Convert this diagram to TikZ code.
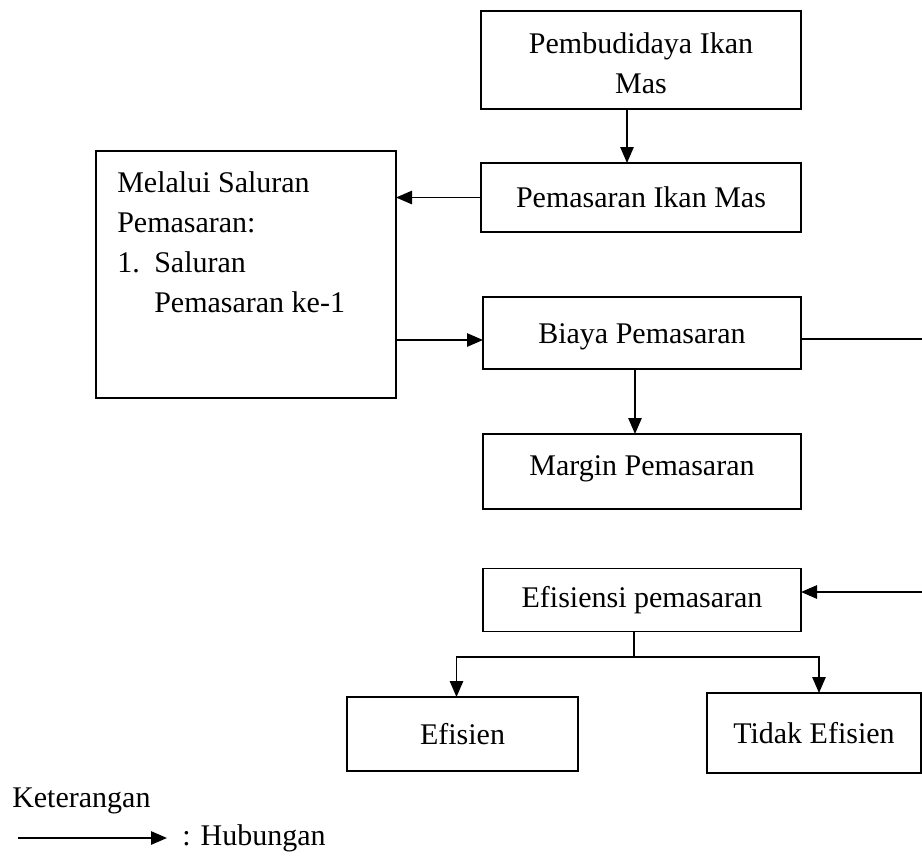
\documentclass[tikz,border=0pt]{standalone}
\usepackage{fontspec}
\setmainfont{Liberation Serif}
\usetikzlibrary{arrows.meta}
\begin{document}
\begin{tikzpicture}[x=0.75pt,y=-0.75pt,
  font=\fontsize{22.5}{30}\selectfont,
  box/.style={draw,line width=1.3pt,inner sep=0pt,outer sep=0pt,align=center},
  conn/.style={line width=1.3pt},
  arr/.style={line width=1.3pt,-{Triangle[length=12pt,width=10pt]}}]
\useasboundingbox (0,0) rectangle (922,861);
% boxes
\node[box,minimum width=240pt,minimum height=73.5pt] (b1) at (641,60) {\rule{0pt}{21pt}Pembudidaya Ikan\\Mas};
\node[box,minimum width=240pt,minimum height=51.75pt] (b2) at (641,197.5) {Pemasaran Ikan Mas};
\node[box,minimum width=225pt,minimum height=185.25pt] (lb) at (246,274.5) {};
\node[anchor=north west,inner sep=0pt,align=left] (lbt) at (117,171.5)
  {Melalui Saluran\\Pemasaran:\\\makebox[27.75pt][l]{1.}Saluran\\\hspace*{27.75pt}Pemasaran ke-1};
\node[box,minimum width=238.5pt,minimum height=54pt] (b3) at (642,333) {\raisebox{-3pt}[\height][\depth]{Biaya Pemasaran}};
\node[box,minimum width=238.5pt,minimum height=56.25pt] (bm) at (642,471.5) {Margin Pemasaran\rule[-9pt]{0pt}{0pt}};
\node[box,minimum width=238.5pt,minimum height=47.25pt] (be) at (642,600) {Efisiensi pemasaran};
\node[box,minimum width=173.25pt,minimum height=55.5pt] (ef) at (462.5,734) {Efisien};
\node[box,minimum width=160.5pt,minimum height=60pt] (te) at (814,733) {Tidak Efisien};
% connectors
\draw[arr] ([xshift=-10.5pt]b1.south) -- ([xshift=-10.5pt]b2.north);
\draw[arr] (b2.west) -- (lb.east |- b2.west);
\draw[arr] ([yshift=-5.25pt]b3.west -| lb.east) -- ([yshift=-5.25pt]b3.west);
\draw[arr] ([xshift=-5.25pt]b3.south) -- ([xshift=-5.25pt]bm.north);
\coordinate (rc1) at (935,339);
\coordinate (rc2) at (935,592);
\draw[arr] ([yshift=-4.5pt]b3.east) -- (rc1) -- (rc2) -- (be.east |- rc2);
\coordinate (bj) at (634,657);
\draw[conn] (be.south -| bj) -- (bj);
\draw[arr] (bj) -| ([xshift=-4.5pt]ef.north);
\draw[arr] (bj) -| ([xshift=3.75pt]te.north);
% legend
\node[anchor=west,inner sep=0pt] (ket) at (12,801) {Keterangan};
\coordinate (lg1) at (18,838);
\coordinate (lg2) at (167,838);
\draw[arr] (lg1) -- (lg2);
\node[anchor=west,inner sep=0pt] (hub) at (182,838) {: Hubungan};
\end{tikzpicture}
\end{document}
